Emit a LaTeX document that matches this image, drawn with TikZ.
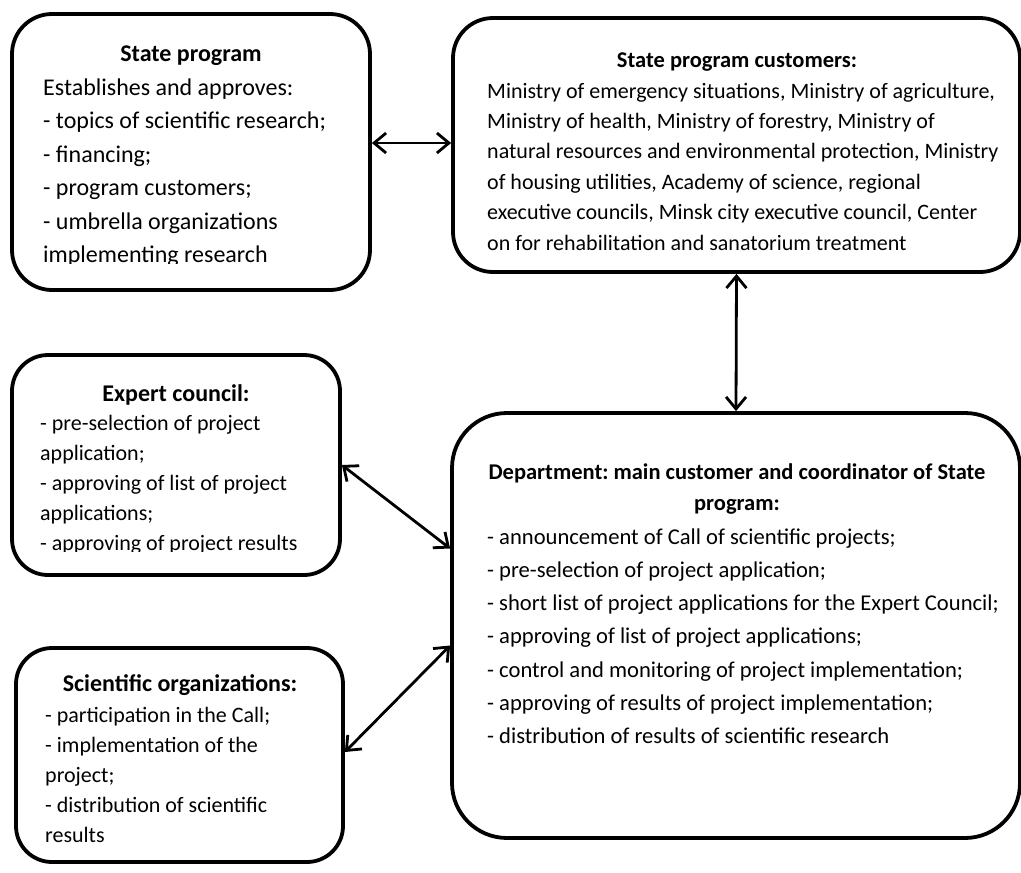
\documentclass[tikz,border=0pt]{standalone}
\usepackage{fontspec}
\setmainfont{Carlito}
\usetikzlibrary{arrows.meta}
\frenchspacing
\begin{document}
\begin{tikzpicture}[x=1pt,y=-1pt,
  box/.style={draw=black, line width=3.8pt, rounded corners=40pt, inner sep=0pt},
  barb/.tip={Straight Barb[length=12pt,width=20pt]},
  arr/.style={line width=2.8pt, barb-barb},
  bodyA/.style={font=\fontsize{24}{28}\selectfont, inner sep=0pt, anchor=base west},
  bodyB/.style={font=\fontsize{22}{26}\selectfont, inner sep=0pt, anchor=base west},
  bodyC/.style={font=\fontsize{22.6}{26}\selectfont, inner sep=0pt, anchor=base west},
  headA/.style={font=\fontsize{24}{28}\selectfont\bfseries, inner sep=0pt, anchor=base},
  headB/.style={font=\fontsize{22.5}{26}\selectfont\bfseries, inner sep=0pt, anchor=base}
]
\useasboundingbox (0,0) rectangle (1021,873);

% boxes
\node[box, minimum width=358pt, minimum height=276pt] (sp) at (191,152) {};
\node[box, minimum width=567pt, minimum height=254pt] (spc) at (736.5,145) {};
\node[box, rounded corners=36pt, minimum width=328pt, minimum height=220pt] (ec) at (176,465) {};
\node[box, rounded corners=36pt, minimum width=327pt, minimum height=214pt] (so) at (179.5,755) {};
\node[box, rounded corners=55pt, minimum width=568pt, minimum height=425pt] (dep) at (736,625.5) {};

% State program
\node[headA] (spT) at (191,61) {State program};
\foreach \t [count=\i from 0] in {{Establishes and approves:},{- topics of scientific research;},{- financing;},{- program customers;},{- umbrella organizations}}
  \node[bodyA] (spt\i) at (43,{95+\i*33.5}) {\t};
\begin{scope}
  \clip (0,0) rectangle (1021,263.5);
  \node[bodyA] (spt5) at (43,262.5) {implementing research};
\end{scope}

% State program customers
\node[headB] (spcT) at (737,67) {State program customers:};
\foreach \t [count=\i from 0] in {{Ministry of emergency situations, Ministry of agriculture,},{Ministry of health, Ministry of forestry, Ministry of},{natural resources and environmental protection, Ministry},{of housing utilities, Academy of science, regional},{executive councils, Minsk city executive council, Center},{on for rehabilitation and sanatorium treatment}}
  \node[bodyB] (spct\i) at (487,{98+\i*30.4}) {\t};

% Expert council
\node[headA] (ecT) at (176,401) {Expert council:};
\foreach \t [count=\i from 0] in {{- pre-selection of project},{application;},{- approving of list of project},{applications;}}
  \node[bodyB] (ect\i) at (40,{430+\i*30}) {\t};
\begin{scope}
  \clip (0,0) rectangle (1021,551);
  \node[bodyB] (ect4) at (40,550) {- approving of project results};
\end{scope}

% Scientific organizations
\node[headA] (soT) at (180,691) {Scientific organizations:};
\foreach \t [count=\i from 0] in {{- participation in the Call;},{- implementation of the},{project;},{- distribution of scientific},{results}}
  \node[bodyB] (sot\i) at (45,{722+\i*30}) {\t};

% Department
\node[headB] (depT1) at (737,479) {Department: main customer and coordinator of State};
\node[headB] (depT2) at (737,510) {program:};
\foreach \t [count=\i from 0] in {{- announcement of Call of scientific projects;},{- pre-selection of project application;},{- short list of project applications for the Expert Council;},{- approving of list of project applications;},{- control and monitoring of project implementation;},{- approving of results of project implementation;},{- distribution of results of scientific research}}
  \node[bodyC] (dept\i) at (487,{544+\i*33.3}) {\t};

% connectors
\draw[arr] ([yshift=9pt]sp.east) -- ([yshift=9pt]sp.east -| spc.west);
\draw[arr] (spc.south) -- (dep.north);
\draw[arr] (ec.east) -- ([yshift=77pt]dep.west);
\draw[arr] ([yshift=-20pt]dep.west) -- ([yshift=3pt]so.east);
\end{tikzpicture}
\end{document}
